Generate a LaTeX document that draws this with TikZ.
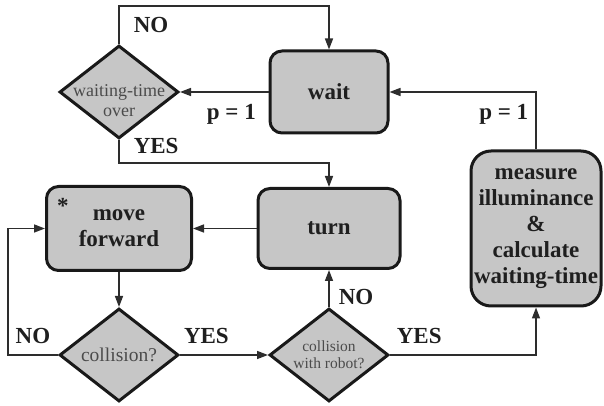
\documentclass[tikz,border=0pt]{standalone}
\usepackage{fontspec}
\setmainfont{Liberation Serif}
\usepackage{xcolor}
\usetikzlibrary{positioning}
\usetikzlibrary{shapes.geometric}
\usetikzlibrary{arrows.meta}

\definecolor{boxgray}{RGB}{198,198,198}
\definecolor{linegray}{RGB}{45,45,45}
\definecolor{textgray}{RGB}{75,75,75}

\begin{document}
\begin{tikzpicture}[x=1pt,y=1pt,->,>={Triangle[length=11pt,width=8pt]},
  box/.style={rectangle,rounded corners=12pt,draw=black!90,line width=3pt,fill=boxgray,
    align=center,inner sep=0pt,text=black!88,font=\bfseries\fontsize{23}{26}\selectfont},
  decision/.style={diamond,draw=black!90,line width=3pt,fill=boxgray,align=center,
    text=textgray,inner sep=-14pt,minimum width=119pt,minimum height=93pt},
  lbl/.style={font=\bfseries\fontsize{23}{26}\selectfont,inner sep=2pt,text=black!88},
  flow/.style={draw=linegray,line width=1.5pt}]
\useasboundingbox (0,0) rectangle (604,406);

\node[box,minimum width=145pt,minimum height=84pt] (move) at (119,177.5) {move\\forward};
\node[box,minimum width=142pt,minimum height=80pt] (turn) [right of=move,node distance=210pt] {turn};
\node[box,rounded corners=20pt,minimum width=130pt,minimum height=155pt] (measure) [right of=turn,node distance=207pt]
  {measure\\illuminance\\\&\\calculate\\waiting-time};
\node[decision,font=\fontsize{18}{20.5}\selectfont,text height=50pt,text depth=0pt] (over) [above of=move,node distance=136.5pt] {waiting-time\\over};
\node[box,minimum width=118pt,minimum height=82pt] (wait) [right of=over,node distance=210pt] {wait};
\node[decision,font=\fontsize{19.5}{22}\selectfont] (coll) [below of=move,node distance=126.5pt] {collision?};
\node[decision,font=\fontsize{15.5}{17}\selectfont] (robot) [right of=coll,node distance=210pt] {collision\\with robot?};
\node[lbl,anchor=north west] (star) at ([xshift=10pt,yshift=-11pt]move.north west) {*};

\coordinate (top) at (119,400);
\coordinate (bend) at (119,243);
\coordinate (loop) at (8,51);

\draw[flow] (over) -- node[lbl,right=12pt] {NO} (top) -| (wait);
\draw[flow] (wait) -- node[lbl,pos=0.42,below=10pt] {p = 1} (over);
\draw[flow] (over) -- node[lbl,pos=0.25,right=12pt] {YES} (bend) -| (turn);
\draw[flow] (turn) -- (move);
\draw[flow] (move) -- (coll);
\draw[flow] (coll) -- node[lbl,above=9pt] {NO} (loop) |- (move);
\draw[flow] (coll) -- node[lbl,pos=0.3,above=9pt] {YES} (robot);
\draw[flow] (robot) -- node[lbl,pos=0.27,right=7pt] {NO} (turn);
\draw[flow] (robot) -| node[lbl,pos=0.1,above=9pt] {YES} (measure);
\draw[flow] (measure) |- node[lbl,pos=0.61,below=10pt] {p = 1} (wait);
\end{tikzpicture}
\end{document}
